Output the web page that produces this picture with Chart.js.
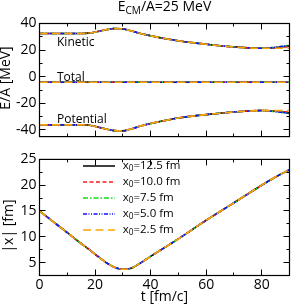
<!doctype html>
<html>
<head>
<meta charset="utf-8">
<title>E/A and |x| vs t</title>
<script src="https://cdn.jsdelivr.net/npm/chart.js@4.4.0/dist/chart.umd.min.js"></script>
<style>
  body { margin: 0; background: #fff; }
  #wrap { position: relative; width: 291px; height: 304px; font-family: "Open Sans", sans-serif; color: #000; }
  canvas { position: absolute; left: 0; }
  .lbl { position: absolute; white-space: nowrap; line-height: 1; }
  .rot { position: absolute; width: 120px; height: 14px; line-height: 14px; font-size: 14px; text-align: center; transform: rotate(-90deg); white-space: nowrap; }
  sub { font-size: 72%; vertical-align: -0.3em; line-height: 0; }
</style>
</head>
<body>
<div id="wrap">
  <canvas id="top" width="291" height="148" style="top:0"></canvas>
  <canvas id="bottom" width="291" height="156" style="top:148px"></canvas>

  <div class="lbl" style="left:39.5px;width:250px;top:-1px;font-size:14px;text-align:center">E<sub>CM</sub>/A=25 MeV</div>
  <div class="lbl" style="left:57px;top:36.2px;font-size:12px">Kinetic</div>
  <div class="lbl" style="left:57px;top:70.6px;font-size:12px">Total</div>
  <div class="lbl" style="left:57px;top:113px;font-size:12px">Potential</div>
  <div class="rot" style="left:-55px;top:71px">E/A [MeV]</div>
  <div class="rot" style="left:-52.5px;top:219px">|x| [fm]</div>
  <div class="lbl" style="left:39.5px;width:250px;top:288.5px;font-size:14px;text-align:center">t [fm/c]</div>
  <div id="legend"></div>
</div>
<script>
// time axis [fm/c]
var times = [0, 5, 10, 15, 18, 21, 24, 27, 30, 33, 36, 40, 45, 50, 55, 60, 65, 70, 75, 80, 85, 90];

// E/A [MeV], one array per x0
var kin125 = [32.5,32.5,32.5,32.5,32.8,34.0,35.3,36.2,35.9,34.5,32.6,30.8,28.7,27.0,25.6,24.4,23.3,22.4,21.7,21.4,21.9,23.2];
var kin100 = [32.5,32.5,32.5,32.5,32.8,34.0,35.3,36.2,35.9,34.5,32.6,30.8,28.7,27.0,25.6,24.4,23.3,22.4,21.7,21.4,21.8,22.6];
var kin75  = [32.5,32.5,32.5,32.5,32.8,34.0,35.3,36.2,35.9,34.5,32.6,30.8,28.7,27.0,25.6,24.4,23.3,22.4,21.7,21.4,22.2,23.7];
var kin50  = [32.5,32.5,32.5,32.5,32.8,34.0,35.3,36.2,35.9,34.5,32.6,30.8,28.7,27.0,25.6,24.4,23.3,22.4,21.7,21.4,22.1,23.6];
var kin25  = [32.5,32.5,32.5,32.5,32.8,34.0,35.3,36.2,35.9,34.5,32.6,30.8,28.7,27.0,25.6,24.4,23.3,22.4,21.7,21.4,21.4,21.4];

var pot125 = [-36.2,-36.2,-36.2,-36.2,-36.5,-37.8,-39.3,-40.5,-40.7,-39.3,-37.3,-35.2,-33.0,-31.0,-29.6,-28.5,-27.4,-26.5,-25.8,-25.4,-25.9,-27.3];
var pot100 = [-36.2,-36.2,-36.2,-36.2,-36.5,-37.8,-39.3,-40.5,-40.7,-39.3,-37.3,-35.2,-33.0,-31.0,-29.6,-28.5,-27.4,-26.5,-25.8,-25.4,-25.8,-26.7];
var pot75  = [-36.2,-36.2,-36.2,-36.2,-36.5,-37.8,-39.3,-40.5,-40.7,-39.3,-37.3,-35.2,-33.0,-31.0,-29.6,-28.5,-27.4,-26.5,-25.8,-25.4,-26.3,-27.8];
var pot50  = [-36.2,-36.2,-36.2,-36.2,-36.5,-37.8,-39.3,-40.5,-40.7,-39.3,-37.3,-35.2,-33.0,-31.0,-29.6,-28.5,-27.4,-26.5,-25.8,-25.4,-26.2,-27.6];
var pot25  = [-36.2,-36.2,-36.2,-36.2,-36.5,-37.8,-39.3,-40.5,-40.7,-39.3,-37.3,-35.2,-33.0,-31.0,-29.6,-28.5,-27.4,-26.5,-25.8,-25.4,-25.5,-25.5];

var tot125 = [-4.2,-4.2,-4.2,-4.2,-4.2,-4.2,-4.2,-4.2,-4.2,-4.2,-4.2,-4.2,-4.2,-4.2,-4.2,-4.2,-4.2,-4.2,-4.2,-4.2,-4.2,-4.2];
var tot100 = [-4.2,-4.2,-4.2,-4.2,-4.2,-4.2,-4.2,-4.2,-4.2,-4.2,-4.2,-4.2,-4.2,-4.2,-4.2,-4.2,-4.2,-4.2,-4.2,-4.2,-4.2,-4.2];
var tot75  = [-4.2,-4.2,-4.2,-4.2,-4.2,-4.2,-4.2,-4.2,-4.2,-4.2,-4.2,-4.2,-4.2,-4.2,-4.2,-4.2,-4.2,-4.2,-4.2,-4.2,-4.2,-4.2];
var tot50  = [-4.2,-4.2,-4.2,-4.2,-4.2,-4.2,-4.2,-4.2,-4.2,-4.2,-4.2,-4.2,-4.2,-4.2,-4.2,-4.2,-4.2,-4.2,-4.2,-4.2,-4.2,-4.2];
var tot25  = [-4.2,-4.2,-4.2,-4.2,-4.2,-4.2,-4.2,-4.2,-4.2,-4.2,-4.2,-4.2,-4.2,-4.2,-4.2,-4.2,-4.2,-4.2,-4.2,-4.2,-4.2,-4.2];

// |x| [fm]
var dist125 = [15.0,12.9,10.8,8.7,7.5,6.2,5.0,4.1,3.7,3.9,4.8,6.2,7.9,9.6,11.4,13.2,14.9,16.6,18.3,20.0,21.6,23.0];
var dist100 = [15.0,12.9,10.8,8.7,7.5,6.2,5.0,4.1,3.7,3.9,4.8,6.2,7.9,9.6,11.4,13.2,14.9,16.6,18.3,20.0,21.6,23.0];
var dist75  = [15.0,12.9,10.8,8.7,7.5,6.2,5.0,4.1,3.7,3.9,4.8,6.2,7.9,9.6,11.4,13.2,14.9,16.6,18.3,20.0,21.6,23.0];
var dist50  = [15.0,12.9,10.8,8.7,7.5,6.2,5.0,4.1,3.7,3.9,4.8,6.2,7.9,9.6,11.4,13.2,14.9,16.6,18.3,20.0,21.6,23.0];
var dist25  = [15.0,12.9,10.8,8.7,7.5,6.2,5.0,4.1,3.7,3.9,4.8,6.2,7.9,9.6,11.4,13.2,14.9,16.6,18.3,20.0,21.6,23.0];

var x0Labels = ['12.5', '10.0', '7.5', '5.0', '2.5'];

// tick values
var tMajor = [0, 20, 40, 60, 80];
var tMinor = [10, 30, 50, 70];
var eMajor = [-40, -20, 0, 20, 40];
var eMinor = [-30, -10, 10, 30];
var dMajor = [5, 10, 15, 20, 25];
var dMinor = [2.5, 7.5, 12.5, 17.5, 22.5];

// styles
var colors = ['#000000', '#ff1a1a', '#10dd10', '#1010ff', '#ffa500'];
var dashes = [[], [4, 2.5], [5, 2, 1.5, 2], [4, 1.5, 1, 1.5, 1, 1.5], [8, 4.5]];

var kinSets = [kin125, kin100, kin75, kin50, kin25];
var potSets = [pot125, pot100, pot75, pot50, pot25];
var totSets = [tot125, tot100, tot75, tot50, tot25];
var distSets = [dist125, dist100, dist75, dist50, dist25];

function pts(arr) {
	return times.map(function (t, i) { return {x: t, y: arr[i]}; });
}
function ds(arr, i) {
	return {
		label: 'x0=' + x0Labels[i] + ' fm',
		data: pts(arr),
		borderColor: colors[i],
		borderDash: dashes[i],
		borderWidth: 1.6,
		pointRadius: 0,
		cubicInterpolationMode: 'monotone',
		fill: false,
		order: 5 - i
	};
}

// frame box + inward ticks on all four sides
var frameTicks = {
	id: 'frameTicks',
	afterDatasetsDraw: function (chart, args, o) {
		var ctx = chart.ctx, a = chart.chartArea, sx = chart.scales.x, sy = chart.scales.y;
		ctx.save();
		ctx.strokeStyle = '#000';
		ctx.lineWidth = 1;
		ctx.setLineDash([]);
		ctx.beginPath();
		function xt(list, len) {
			list.forEach(function (v) {
				var p = Math.round(sx.getPixelForValue(v) - 0.5) + 0.5;
				ctx.moveTo(p, a.bottom); ctx.lineTo(p, a.bottom - len);
				ctx.moveTo(p, a.top); ctx.lineTo(p, a.top + len);
			});
		}
		function yt(list, len) {
			list.forEach(function (v) {
				var p = Math.round(sy.getPixelForValue(v) - 0.5) + 0.5;
				ctx.moveTo(a.left, p); ctx.lineTo(a.left + len, p);
				ctx.moveTo(a.right, p); ctx.lineTo(a.right - len, p);
			});
		}
		xt(o.xMajor, 6); xt(o.xMinor, 3);
		yt(o.yMajor, 6); yt(o.yMinor, 3);
		ctx.stroke();
		ctx.lineWidth = 1.2;
		ctx.strokeRect(a.left, a.top, a.right - a.left, a.bottom - a.top);
		ctx.restore();
	}
};

var tickFont = {family: 'Open Sans', size: 14};

function baseOptions(padding, yMin, yMax, yTicks, showX, xHeight) {
	return {
		responsive: false,
		animation: false,
		layout: {padding: padding},
		plugins: {legend: {display: false}, tooltip: {enabled: false}},
		scales: {
			x: {
				type: 'linear', min: 0, max: 90,
				afterBuildTicks: function (s) { s.ticks = tMajor.map(function (v) { return {value: v}; }); },
				ticks: {display: showX, font: tickFont, color: '#000', padding: 1, maxRotation: 0},
				grid: {display: false, drawTicks: false},
				border: {display: false},
				afterFit: function (s) { s.height = xHeight; }
			},
			y: {
				type: 'linear', min: yMin, max: yMax,
				afterBuildTicks: function (s) { s.ticks = yTicks.map(function (v) { return {value: v}; }); },
				ticks: {font: tickFont, color: '#000', padding: 3},
				grid: {display: false, drawTicks: false},
				border: {display: false},
				afterFit: function (s) { s.width = 39.5; }
			}
		}
	};
}

var topSets = [];
for (var i = 0; i < 5; i++) {
	topSets.push(ds(kinSets[i], i));
	topSets.push(ds(totSets[i], i));
	topSets.push(ds(potSets[i], i));
}
var topOpts = baseOptions({top: 23.5, right: 1.5, bottom: 5.5, left: 0}, -45, 40, eMajor, false, 0);
topOpts.plugins.frameTicks = {xMajor: tMajor, xMinor: tMinor, yMajor: eMajor, yMinor: eMinor};
new Chart(document.getElementById('top').getContext('2d'), {
	type: 'line',
	data: {datasets: topSets},
	options: topOpts,
	plugins: [frameTicks]
});

var botSets = distSets.map(function (arr, i) { return ds(arr, i); });
var botOpts = baseOptions({top: 4.5, right: 1.5, bottom: 0, left: 0}, 2.5, 25, dMajor, true, 28.5);
botOpts.plugins.frameTicks = {xMajor: tMajor, xMinor: tMinor, yMajor: dMajor, yMinor: dMinor};
var bottomChart = new Chart(document.getElementById('bottom').getContext('2d'), {
	type: 'line',
	data: {datasets: botSets},
	options: botOpts,
	plugins: [frameTicks]
});

// legend inside the lower panel, built from the datasets
var legend = document.getElementById('legend');
bottomChart.data.datasets.forEach(function (d, i) {
	var cy = 166 + i * 16.1;
	var svg = '<svg width="32" height="4" style="position:absolute;left:82.7px;top:' + (cy - 2) + 'px">' +
		'<line x1="0" y1="2" x2="32" y2="2" stroke="' + d.borderColor + '" stroke-width="1.5"' +
		(d.borderDash.length ? ' stroke-dasharray="' + d.borderDash.join(',') + '"' : '') + '/></svg>';
	var txt = '<div class="lbl" style="left:122.7px;top:' + (cy - 7) + 'px;font-size:11.5px">x<sub>0</sub>=' + x0Labels[i] + ' fm</div>';
	legend.insertAdjacentHTML('beforeend', svg + txt);
});
</script>
</body>
</html>
